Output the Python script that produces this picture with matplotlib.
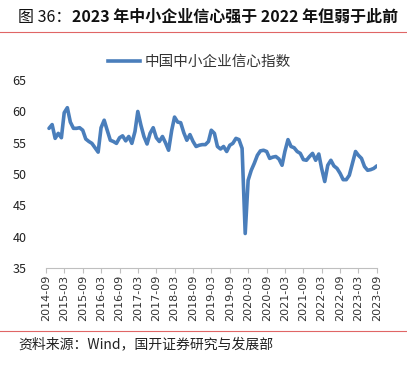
import pandas as pd
import matplotlib
matplotlib.use('Agg')
import matplotlib.pyplot as plt
from matplotlib.lines import Line2D

plt.rcParams['font.family'] = ['Noto Sans CJK SC', 'DejaVu Sans']

# monthly index values, 2014-10 .. 2023-09
months = pd.date_range('2014-10-01', '2023-09-01', freq='MS')
sme_index = [
    57.3, 57.9, 55.7, 56.5, 55.8, 59.8, 60.6, 58.3, 57.3, 57.3, 57.4, 57.0,
    55.6, 55.2, 54.9, 54.2, 53.5, 57.4, 58.6, 57.0, 55.4, 55.2, 54.9, 55.8,
    56.1, 55.3, 56.0, 54.9, 56.8, 60.0, 57.8, 56.0, 54.8, 56.5, 57.4, 55.8,
    55.2, 56.0, 55.0, 53.8, 57.0, 59.1, 58.3, 58.2, 56.6, 55.4, 56.3, 55.2,
    54.4, 54.6, 54.7, 54.7, 55.2, 57.0, 56.5, 54.4, 54.0, 54.4, 53.6, 54.6,
    54.9, 55.7, 55.5, 54.1, 40.5, 49.0, 50.6, 51.7, 53.0, 53.7, 53.8, 53.6,
    52.5, 52.7, 52.8, 52.4, 51.4, 53.6, 55.5, 54.4, 54.2, 53.6, 53.3, 52.3,
    52.2, 52.8, 53.3, 52.2, 53.2, 50.9, 48.8, 51.4, 52.2, 51.3, 50.9, 50.1,
    49.1, 49.1, 49.8, 51.7, 53.6, 53.0, 52.5, 51.2, 50.6, 50.7, 50.9, 51.3,
]
tick_dates = pd.date_range('2014-09-01', '2023-09-01', freq='6MS')
tick_labels = [d.strftime('%Y-%m') for d in tick_dates]
y_ticks = [35, 40, 45, 50, 55, 60, 65]

fig = plt.figure(figsize=(4.07, 3.66), dpi=100)
ax = fig.add_axes([0.113, 0.268, 0.813, 0.513])

ax.plot(months, sme_index, color='#4A7EBB', lw=2.6, solid_joinstyle='round',
        solid_capstyle='round')

ax.set_xlim(tick_dates[0], tick_dates[-1])
ax.set_ylim(35, 65)
ax.set_yticks(y_ticks)
ax.set_xticks(tick_dates)
ax.set_xticklabels(tick_labels, rotation=90, fontsize=8, color='#333333',
                   family='DejaVu Sans')
ax.tick_params(axis='y', length=0, labelsize=9, labelcolor='#222222', pad=14)
ax.tick_params(axis='x', length=3.5, color='#BFBFBF', width=0.8, pad=1.5)
for s in ['top', 'right', 'left']:
    ax.spines[s].set_visible(False)
ax.spines['bottom'].set_color('#BFBFBF')
ax.spines['bottom'].set_linewidth(0.8)

# legend
handle = Line2D([], [], color='#4A7EBB', lw=2.6)
fig.legend([handle], ['中国中小企业信心指数'], loc='center',
           bbox_to_anchor=(0.49, 0.830), frameon=False, fontsize=10.5,
           handlelength=2.2, handletextpad=0.3, labelcolor='#333333')

# title and source
t1 = fig.text(0.045, 0.953, '图 36：', fontsize=11.5, va='center', color='#111111')
fig.text(0.0, 0.0, '2023 年中小企业信心强于 2022 年但弱于此前', fontsize=11.5,
         fontweight='bold', va='center', color='#111111',
         transform=t1.get_transform())
fig.lines.append(Line2D([0.0, 1.0], [0.913, 0.913], transform=fig.transFigure,
                        color='#E06666', lw=0.8))
fig.lines.append(Line2D([0.0, 1.0], [0.096, 0.096], transform=fig.transFigure,
                        color='#E06666', lw=0.8))
fig.text(0.045, 0.06, '资料来源：Wind，国开证券研究与发展部', fontsize=10,
         va='center', color='#222222')

# place bold part right after the regular prefix
fig.canvas.draw()
bb = t1.get_window_extent()
fig.texts[1].set_transform(None)
fig.texts[1].set_position((bb.x1, (bb.y0 + bb.y1) / 2))

fig.savefig('out.png', dpi=100)
